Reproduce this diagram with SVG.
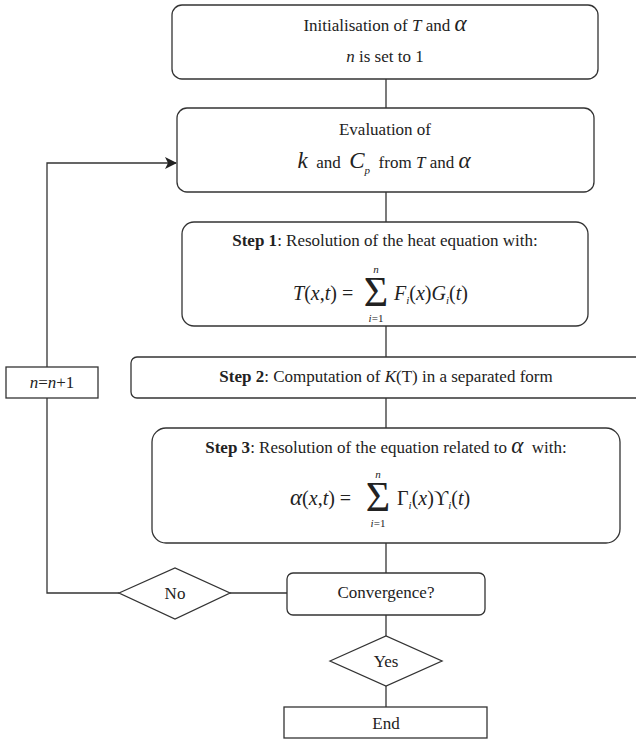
<svg xmlns="http://www.w3.org/2000/svg" width="636" height="739" viewBox="0 0 636 739">
<defs>
<style>
text{font-family:"Liberation Serif","Times New Roman",serif;font-size:17px;fill:#222}
.c{text-anchor:middle}
.i{font-style:italic}
.b{font-weight:bold}
.m{font-size:20px}
.a{font-style:italic;font-size:23px}
.s{font-size:11px;font-style:italic}
.sum{font-size:42px}
.box{fill:#fff;stroke:#333;stroke-width:1.3}
.ln{fill:none;stroke:#333;stroke-width:1.3}
</style>
<marker id="arr" viewBox="0 0 12 12" refX="11" refY="6" markerWidth="12" markerHeight="12" markerUnits="userSpaceOnUse" orient="auto">
<path d="M0,0 L12,6 L0,12 L3,6 Z" fill="#222"/>
</marker>
</defs>
<rect width="636" height="739" fill="#fff"/>

<g id="connectors">
<line class="ln" x1="386" y1="79" x2="386" y2="108"/>
<line class="ln" x1="386" y1="192" x2="386" y2="222"/>
<line class="ln" x1="386" y1="326" x2="386" y2="357"/>
<line class="ln" x1="386" y1="398" x2="386" y2="428"/>
<line class="ln" x1="386" y1="543" x2="386" y2="573"/>
<line class="ln" x1="386" y1="615" x2="386" y2="636"/>
<line class="ln" x1="386" y1="686" x2="386" y2="707"/>
<line class="ln" x1="230" y1="593" x2="287" y2="593"/>
<polyline class="ln" points="119,593 47,593 47,398"/>
<polyline class="ln" points="47,367 47,163 176,163" marker-end="url(#arr)"/>
</g>

<g id="init">
<rect class="box" x="172" y="5" width="426" height="74" rx="10"/>
<text class="c" x="385" y="31">Initialisation of <tspan class="i">T</tspan> and <tspan class="a">α</tspan></text>
<text class="c" x="385" y="62"><tspan class="i">n</tspan> is set to 1</text>
</g>

<g id="evaluation">
<rect class="box" x="177" y="108" width="417" height="84" rx="10"/>
<text class="c" x="385" y="135">Evaluation of</text>
<text class="c" x="384" y="168" xml:space="preserve"><tspan class="a">k</tspan>  and  <tspan class="a">C</tspan><tspan class="s" font-size="13" dy="6">p</tspan><tspan dy="-6">  from </tspan><tspan class="i">T</tspan> and <tspan class="a">α</tspan></text>
</g>

<g id="step1">
<rect class="box" x="182" y="222" width="406" height="104" rx="12"/>
<text class="c" x="385" y="246"><tspan class="b">Step 1</tspan>: Resolution of the heat equation with:</text>
<text class="m" x="293" y="300"><tspan class="i">T</tspan>(<tspan class="i">x</tspan>,<tspan class="i">t</tspan>) =</text>
<text class="sum c" x="376" y="306">Σ</text>
<text class="s c" x="376" y="273">n</text>
<text class="s c" x="376" y="322">i<tspan font-style="normal">=1</tspan></text>
<text class="m" x="394" y="300"><tspan class="i">F</tspan><tspan class="s" font-size="13" dy="4">i</tspan><tspan dy="-4">(</tspan><tspan class="i">x</tspan>)<tspan class="i">G</tspan><tspan class="s" font-size="13" dy="4">i</tspan><tspan dy="-4">(</tspan><tspan class="i">t</tspan>)</text>
</g>

<g id="step2">
<rect class="box" x="131" y="357" width="530" height="41" rx="6"/>
<text class="c" x="386" y="382"><tspan class="b">Step 2</tspan>: Computation of <tspan class="i">K</tspan>(T) in a separated form</text>
</g>

<g id="step3">
<rect class="box" x="152" y="428" width="468" height="115" rx="14"/>
<text class="c" x="386" y="453" xml:space="preserve"><tspan class="b">Step 3</tspan>: Resolution of the equation related to <tspan class="a">α</tspan>  with:</text>
<text class="m" x="290" y="505"><tspan class="a">α</tspan>(<tspan class="i">x</tspan>,<tspan class="i">t</tspan>) =</text>
<text class="sum c" x="378" y="511">Σ</text>
<text class="s c" x="378" y="478">n</text>
<text class="s c" x="378" y="527">i<tspan font-style="normal">=1</tspan></text>
<text class="m" x="397" y="505">Γ<tspan class="s" font-size="13" dy="4">i</tspan><tspan dy="-4">(</tspan><tspan class="i">x</tspan>)ϒ<tspan class="s" font-size="13" dy="4">i</tspan><tspan dy="-4">(</tspan><tspan class="i">t</tspan>)</text>
</g>

<g id="nplus1">
<rect class="box" x="6" y="367" width="92" height="31"/>
<text class="c" x="52" y="388"><tspan class="i">n</tspan>=<tspan class="i">n</tspan>+1</text>
</g>

<g id="convergence">
<rect class="box" x="287" y="573" width="198" height="42" rx="6"/>
<text class="c" x="386" y="598">Convergence?</text>
</g>

<g id="no">
<polygon class="box" points="119,593 175,568 230,593 175,619"/>
<text class="c" x="175" y="599">No</text>
</g>

<g id="yes">
<polygon class="box" points="330,661 386,636 442,661 386,686"/>
<text class="c" x="386" y="667">Yes</text>
</g>

<g id="end">
<rect class="box" x="284" y="707" width="203" height="31"/>
<text class="c" x="386" y="729">End</text>
</g>
</svg>
